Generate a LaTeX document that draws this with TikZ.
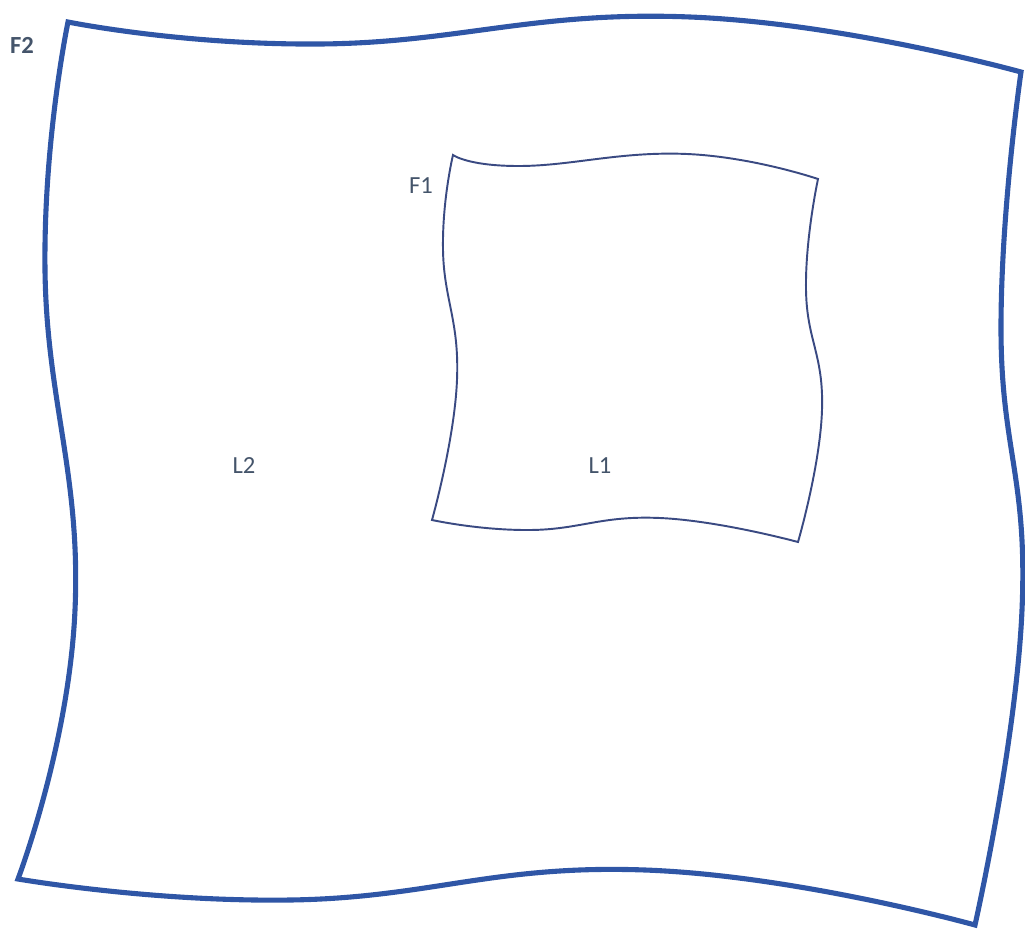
\documentclass[tikz,border=0pt]{standalone}
\usepackage{fontspec}
\setmainfont{Carlito}
\usetikzlibrary{positioning}
\definecolor{cframe}{HTML}{2F56A6}
\definecolor{cinner}{HTML}{3A4A82}
\definecolor{clabel}{HTML}{44546A}
\tikzset{
  every picture/.style={x=0.02cm, y=-0.02cm},
  outerframe/.style={draw=cframe, line width=2.9pt, line join=miter},
  innerframe/.style={draw=cinner, line width=1.1pt, line join=miter},
  label/.style={text=clabel, font=\fontsize{14}{16}\selectfont, inner sep=1pt},
}
\begin{document}
\begin{tikzpicture}
  \useasboundingbox (0,0) rectangle (1025,930);
  % outer frame F2
  \draw[outerframe]
    plot[smooth, tension=0.8] coordinates {(68,22) (320,44) (690,17) (1021,72)}
    -- plot[smooth, tension=0.8] coordinates {(1021,72) (1001,330) (1022,610) (975,925)}
    -- plot[smooth, tension=0.8] coordinates {(975,925) (645,870) (290,900) (18,879)}
    -- plot[smooth, tension=0.8] coordinates {(18,879) (75,610) (45,270) (68,22)}
    -- cycle;
  % inner frame F1
  \draw[innerframe]
    plot[smooth, tension=0.8] coordinates {(453,155) (520,166) (687,154) (818,179)}
    -- plot[smooth, tension=0.8] coordinates {(818,179) (806,290) (822,410) (798,542)}
    -- plot[smooth, tension=0.8] coordinates {(798,542) (660,518) (530,530) (432,520)}
    -- plot[smooth, tension=0.8] coordinates {(432,520) (457,380) (443,250) (453,155)}
    -- cycle;
  \node[label, font=\fontsize{14}{16}\selectfont\bfseries] (f2) at (22,45) {F2};
  \node[label] (f1) at (421,186) {F1};
  \node[label] (l2) at (244,466) {L2};
  \node[label] (l1) at (600,466) {L1};
\end{tikzpicture}
\end{document}
